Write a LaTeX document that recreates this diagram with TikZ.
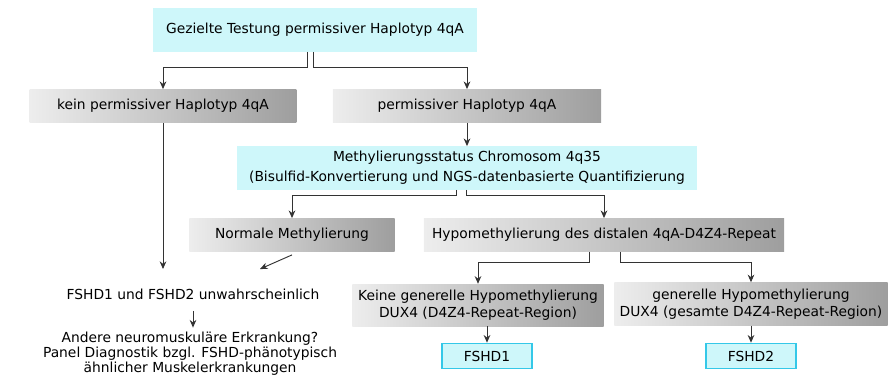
\documentclass[tikz,border=0pt]{standalone}
\usepackage{fontspec}
\setmainfont{DejaVu Sans}
\usetikzlibrary{positioning, calc, arrows.meta}
\definecolor{boxcyan}{RGB}{206,247,250}
\definecolor{framecyan}{RGB}{52,200,232}

\begin{document}
\begin{tikzpicture}[x=0.03cm, y=-0.03cm, font=\fontsize{11.8}{14.5}\selectfont, >={Stealth[length=2.3mm, width=2mm]},
	link/.style={->, draw=black!80, line width=0.8pt},
	cyanbox/.style={fill=boxcyan, draw=none, align=center, minimum height=1.3cm, inner xsep=2pt},
	graybox/.style={left color=black!7, right color=black!38, draw=none, align=center, minimum height=1cm, inner xsep=2pt},
	fshdbox/.style={fill=boxcyan, draw=framecyan, line width=1.4pt, minimum width=2.7cm, minimum height=0.75cm},
	plain/.style={align=center, inner sep=1pt}]
\useasboundingbox (0, 0) rectangle (888, 379);
\node[cyanbox, minimum width=9.72cm] (test) at (315, 30) {Gezielte Testung permissiver Haplotyp 4qA};
\node[graybox, minimum width=8cm] (kein) at (163, 106) {kein permissiver Haplotyp 4qA};
\node[graybox, minimum width=8.04cm] (perm) at (467, 106) {permissiver Haplotyp 4qA};
\node[cyanbox, minimum width=13.8cm, font=\fontsize{11.8}{17}\selectfont] (meth) at (467, 168) {Methylierungsstatus Chromosom 4q35\\(Bisulfid-Konvertierung und NGS-datenbasierte Quantifizierung};
\node[graybox, minimum width=6.15cm] (norm) at (292, 235) {Normale Methylierung};
\node[graybox, minimum width=10.8cm] (hypo) at (604, 235) {Hypomethylierung des distalen 4qA-D4Z4-Repeat};
\node[plain] (unw) at (193, 294) {FSHD1 und FSHD2 unwahrscheinlich};
\node[plain, font=\fontsize{11.8}{12.8}\selectfont] (andere) at (190, 354) {Andere neuromuskuläre Erkrankung?\\Panel Diagnostik bzgl. FSHD-phänotypisch\\ähnlicher Muskelerkrankungen};
\node[graybox, minimum width=7.53cm, minimum height=1.26cm] (keine) at (478, 305) {Keine generelle Hypomethylierung\\DUX4 (D4Z4-Repeat-Region)};
\node[graybox, minimum width=8.19cm, minimum height=1.29cm] (gen) at (751, 304) {generelle Hypomethylierung\\DUX4 (gesamte D4Z4-Repeat-Region)};
\node[fshdbox] (f1) at (487, 356) {FSHD1};
\node[fshdbox] (f2) at (751, 356) {FSHD2};
\coordinate (j1) at (260, 269);

\draw[link] ($(test.south)+(-8, 0)$) -- +(0, 16) -| (kein);
\draw[link] ($(test.south)+(-2, 0)$) -- +(0, 16) -| (perm);
\draw[link] (perm) -- (meth);
\draw[link] ($(meth.south)+(-11, 0)$) -- +(0, 6) -| (norm);
\draw[link] ($(meth.south)+(-1, 0)$) -- +(0, 6) -| (hypo);
\draw[link] ($(hypo.south)+(-15, 0)$) -- +(0, 11) -| (keine);
\draw[link] ($(hypo.south)+(16, 0)$) -- +(0, 11) -| (gen);
\draw[link] (kein) -- (kein |- j1);
\draw[link] ($(norm.south)+(0, 3)$) -- (j1);
\draw[link, shorten <=0.3cm, shorten >=0.1cm] (unw) -- (unw |- andere.north);
\draw[link] (keine.south -| f1) -- (f1);
\draw[link] (gen) -- (f2);
\end{tikzpicture}
\end{document}
